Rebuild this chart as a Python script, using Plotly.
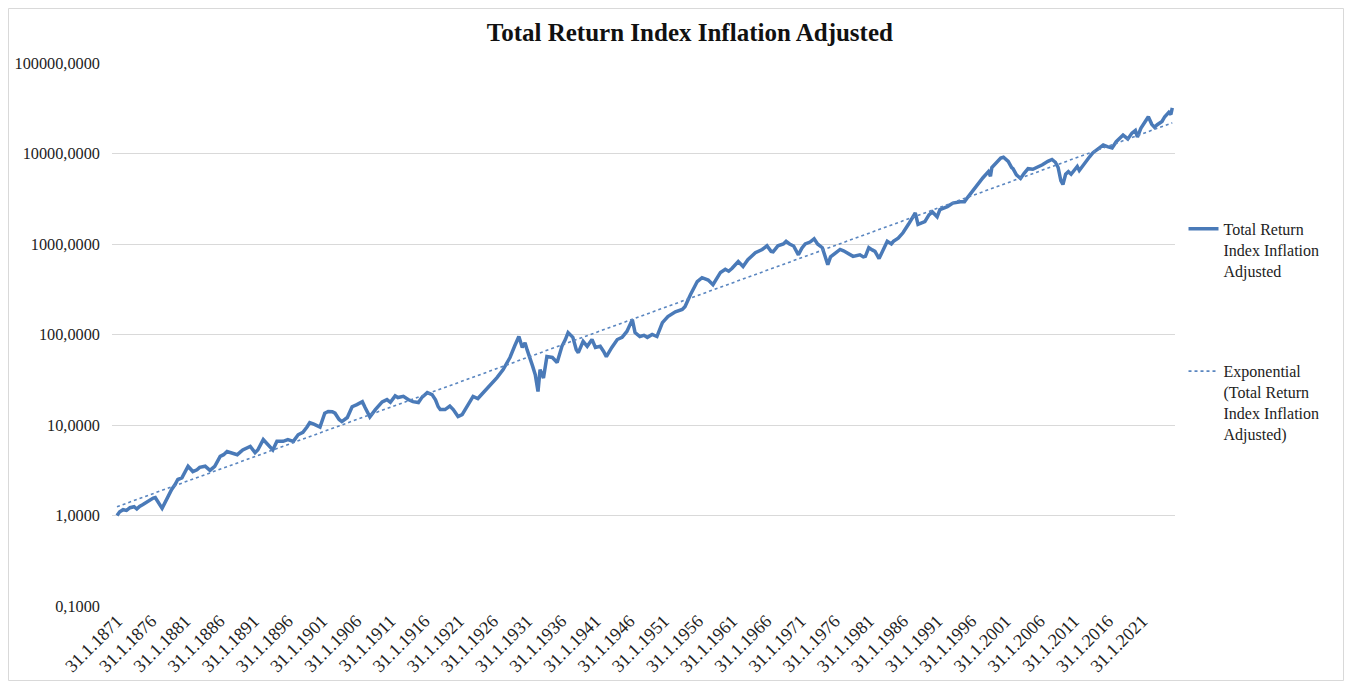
import plotly.graph_objects as go

# ---- data ----
years = [
    1871.0, 1871.4, 1871.9, 1872.4, 1872.9, 1873.5, 1873.9, 1874.3, 1874.8, 1875.3,
    1875.8, 1876.3, 1876.6, 1876.9, 1877.3, 1877.6, 1878.0, 1878.4, 1879.0, 1879.5,
    1879.9, 1880.5, 1880.9, 1881.4, 1882.1, 1882.7, 1883.1, 1883.9, 1884.6, 1885.3,
    1886.1, 1886.6, 1887.1, 1887.8, 1888.6, 1889.4, 1890.0, 1890.5, 1891.2, 1891.6,
    1892.4, 1893.1, 1893.8, 1894.4, 1895.3, 1896.0, 1896.8, 1897.5, 1898.2, 1898.8,
    1899.2, 1899.8, 1900.7, 1901.4, 1901.9, 1902.5, 1902.9, 1903.5, 1903.9, 1904.7,
    1905.4, 1906.1, 1906.9, 1907.3, 1908.0, 1908.8, 1909.3, 1909.8, 1910.5, 1911.0,
    1911.7, 1912.1, 1912.9, 1913.6, 1914.3, 1915.1, 1915.6, 1916.4, 1917.1, 1917.6,
    1918.0, 1918.3, 1919.0, 1919.7, 1920.2, 1920.9, 1921.5, 1922.2, 1922.7, 1923.1,
    1923.8, 1924.6, 1925.6, 1926.6, 1927.5, 1928.0, 1928.5, 1929.2, 1929.8, 1930.3,
    1930.7, 1931.0, 1931.4, 1931.8, 1932.2, 1932.6, 1932.9, 1933.4, 1933.9, 1934.7,
    1935.4, 1935.8, 1936.1, 1936.6, 1937.0, 1937.7, 1938.2, 1938.5, 1939.2, 1939.8,
    1940.5, 1941.0, 1941.7, 1942.2, 1942.6, 1943.4, 1944.2, 1944.9, 1945.6, 1946.4,
    1946.8, 1947.5, 1948.1, 1948.6, 1949.3, 1950.0, 1950.8, 1951.6, 1952.7, 1953.7,
    1954.1, 1954.9, 1955.5, 1955.9, 1956.6, 1957.5, 1958.2, 1958.8, 1959.3, 1960.0,
    1960.5, 1961.0, 1961.9, 1962.6, 1963.3, 1964.4, 1965.4, 1966.1, 1966.7, 1967.0,
    1967.7, 1968.5, 1968.9, 1969.4, 1970.0, 1970.7, 1971.2, 1971.7, 1972.4, 1973.0,
    1973.5, 1974.2, 1974.7, 1975.0, 1975.4, 1975.8, 1976.8, 1977.3, 1977.8, 1978.3,
    1978.7, 1979.7, 1980.2, 1980.5, 1981.0, 1981.5, 1981.9, 1982.5, 1982.9, 1983.7,
    1984.3, 1984.6, 1985.3, 1986.0, 1986.8, 1987.3, 1987.8, 1988.2, 1988.7, 1989.2,
    1989.8, 1990.3, 1991.0, 1991.4, 1992.5, 1993.3, 1994.4, 1995.0, 1995.5, 1996.1,
    1997.0, 1997.7, 1998.5, 1998.8, 1999.0, 1999.8, 2000.3, 2000.7, 2001.4, 2001.9,
    2002.1, 2002.6, 2003.2, 2003.7, 2004.3, 2005.0, 2005.6, 2006.4, 2007.2, 2007.8,
    2008.3, 2008.7, 2009.1, 2009.4, 2009.8, 2010.2, 2010.6, 2011.5, 2011.8, 2012.7,
    2013.3, 2013.8, 2014.4, 2015.3, 2015.9, 2016.6, 2017.2, 2018.2, 2018.9, 2019.5,
    2020.0, 2020.3, 2020.8, 2021.3, 2021.9, 2022.4, 2022.8, 2023.2, 2023.9, 2024.3,
    2024.9, 2025.2, 2025.4,
]
index_values = [
    1.00, 1.10, 1.16, 1.14, 1.22, 1.25, 1.18, 1.26, 1.32, 1.40,
    1.50, 1.56, 1.58, 1.43, 1.30, 1.20, 1.38, 1.55, 1.94, 2.2,
    2.5, 2.6, 3.0, 3.5, 3.06, 3.2, 3.4, 3.5, 3.15, 3.5,
    4.5, 4.7, 5.1, 4.9, 4.7, 5.3, 5.6, 5.8, 4.96, 5.3,
    6.9, 6.1, 5.3, 6.6, 6.6, 6.9, 6.6, 7.8, 8.3, 9.5,
    10.6, 10.2, 9.5, 13.5, 14.1, 14.0, 13.5, 11.5, 10.9, 12.1,
    15.9, 16.8, 18.1, 15.6, 12.3, 14.8, 16.5, 18.0, 19.1, 17.8,
    21.0, 20.1, 20.7, 19.1, 18.1, 17.7, 20.1, 22.8, 21.7, 19.0,
    15.9, 14.8, 14.8, 16.2, 14.8, 12.4, 13.0, 15.9, 18.5, 20.7,
    19.6, 22.8, 28.0, 33.4, 41.0, 47.0, 55.7, 75.0, 95.0, 72.0,
    81.0, 68.0, 57.0, 45.0, 36.0, 23.4, 41.0, 33.0, 57.0, 55.7,
    49.0, 65.0, 74.0, 88.0, 105.0, 93.0, 68.0, 63.0, 84.0, 74.0,
    88.0, 72.0, 74.0, 65.0, 57.0, 72.0, 88.0, 93.0, 108.0, 146.0,
    105.0, 95.0, 98.0, 93.0, 100.0, 95.0, 135.0, 158.0, 178.0, 189.0,
    203.0, 275.0, 340.0, 385.0, 425.0, 400.0, 355.0, 430.0, 485.0, 525.0,
    500.0, 540.0, 640.0, 565.0, 670.0, 800.0, 870.0, 955.0, 830.0, 820.0,
    955.0, 1000.0, 1070.0, 1000.0, 950.0, 760.0, 900.0, 1000.0, 1050.0, 1140.0,
    1000.0, 910.0, 700.0, 590.0, 720.0, 760.0, 870.0, 840.0, 800.0, 760.0,
    730.0, 760.0, 720.0, 730.0, 910.0, 860.0, 830.0, 690.0, 800.0, 1070.0,
    1000.0, 1070.0, 1160.0, 1330.0, 1650.0, 1900.0, 2200.0, 1650.0, 1700.0, 1770.0,
    2100.0, 2260.0, 2000.0, 2400.0, 2590.0, 2830.0, 2930.0, 2930.0, 3300.0, 3800.0,
    4540.0, 5400.0, 6300.0, 5600.0, 7000.0, 8200.0, 8900.0, 9100.0, 8200.0, 7000.0,
    6800.0, 5800.0, 5300.0, 6000.0, 6800.0, 6700.0, 7000.0, 7500.0, 8200.0, 8600.0,
    8000.0, 7000.0, 5000.0, 4540.0, 5900.0, 6300.0, 5900.0, 7200.0, 6500.0, 8200.0,
    9200.0, 10200.0, 11000.0, 12400.0, 11900.0, 11500.0, 13500.0, 16000.0, 14500.0, 16800.0,
    18000.0, 15200.0, 19000.0, 22000.0, 25500.0, 21000.0, 19500.0, 20800.0, 22600.0, 25500.0,
    28500.0, 27000.0, 32000.0,
]

# exponential trend line (straight on a log axis), endpoints
trend_years = [1871.0, 2025.4]
trend_values = [1.25, 21800.0]

tick_years = list(range(1871, 2022, 5))
tick_labels = [f"31.1.{y}" for y in tick_years]
y_tick_values = [0.1, 1, 10, 100, 1000, 10000, 100000]
y_tick_labels = ["0,1000", "1,0000", "10,0000", "100,0000", "1000,0000",
                 "10000,0000", "100000,0000"]

FONT = "Liberation Serif, Times New Roman, serif"
BLUE = "#4a7ab8"

W, H = 1337, 674
ML, MR, MT, MB = 104, 170, 55, 76
PW, PH = W - ML - MR, H - MT - MB

fig = go.Figure()
fig.add_trace(go.Scatter(
    x=years, y=index_values, mode="lines",
    name="Total Return<br>Index Inflation<br>Adjusted",
    line=dict(color=BLUE, width=3.5),
    legendgroup="a",
))
fig.add_trace(go.Scatter(
    x=trend_years, y=trend_values, mode="lines",
    name="Exponential<br>(Total Return<br>Index Inflation<br>Adjusted)",
    line=dict(color="#5a86c0", width=1.6, dash="dot"),
    legendgroup="b",
))

fig.update_layout(
    width=W, height=H,
    margin=dict(l=ML, r=MR, t=MT, b=MB, autoexpand=False),
    paper_bgcolor="white", plot_bgcolor="white",
    font=dict(family=FONT, size=17, color="#222222"),
    title=dict(text="<b>Total Return Index Inflation Adjusted</b>",
               x=0.51, xanchor="center", y=1 - 24 / H, yanchor="middle",
               font=dict(family=FONT, size=25, color="#111111")),
    showlegend=True,
    legend=dict(x=1.008, xanchor="left", y=0.726, yanchor="top",
                font=dict(family=FONT, size=16, color="#222222"),
                tracegroupgap=77, valign="top", traceorder="grouped",
                bgcolor="rgba(0,0,0,0)"),
    xaxis=dict(
        range=[1870.27, 2025.8], automargin=False,
        tickmode="array", tickvals=tick_years, ticktext=tick_labels,
        tickangle=-45, showgrid=False, zeroline=False, showline=False,
        ticks="", tickfont=dict(family=FONT, size=18, color="#222222"),
    ),
    yaxis=dict(
        type="log", range=[-1, 5], automargin=False,
        tickmode="array", tickvals=y_tick_values, ticktext=y_tick_labels,
        showgrid=True, gridcolor="#d9d9d9", gridwidth=1,
        zeroline=False, showline=False, ticks="", ticklabelstandoff=11,
        tickfont=dict(family=FONT, size=16.3, color="#222222"),
    ),
    shapes=[dict(type="rect", xref="paper", yref="paper",
                 x0=(-ML + 0.5) / PW, x1=(W - ML - 1.5) / PW,
                 y0=(-MB + 1.5) / PH, y1=(PH + MT - 0.5) / PH,
                 line=dict(color="#d9d9d9", width=1), layer="below")],
)

fig.write_html("out.html")
